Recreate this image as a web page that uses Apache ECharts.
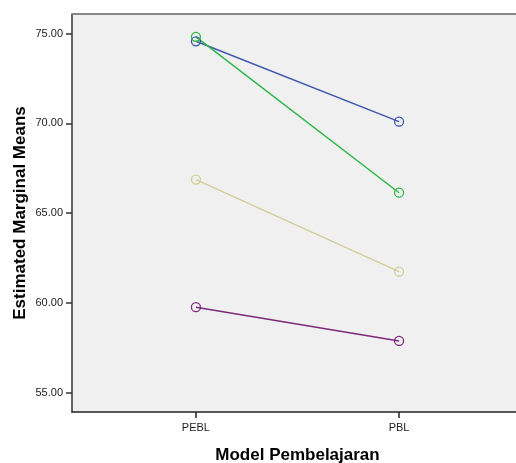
<!DOCTYPE html>
<html>
<head>
<meta charset="utf-8">
<script src="https://cdn.jsdelivr.net/npm/echarts@6/dist/echarts.min.js"></script>
<style>
    html, body { margin: 0; padding: 0; background: #fff; }
    #myChart { width: 516px; height: 463px; }
</style>
</head>
<body>
<div id="myChart"></div>
<script>
    // kategori sumbu x
    var categories = ['PEBL', 'PBL'];
    // nilai rata-rata tiap garis (PEBL, PBL)
    var blueValues = [74.58, 70.10];
    var greenValues = [74.83, 66.14];
    var beigeValues = [66.87, 61.74];
    var purpleValues = [59.76, 57.88];
    var yTicks = [55, 60, 65, 70, 75];

    function toPoints(vals) {
        var pts = [];
        for (var i = 0; i < vals.length; i++) {
            pts.push([i, vals[i]]);
        }
        return pts;
    }

    function makeSeries(name, vals, color) {
        return {
            name: name,
            type: 'line',
            data: toPoints(vals),
            symbol: 'circle',
            symbolSize: 9,
            lineStyle: { color: color, width: 1.5 },
            itemStyle: { color: 'rgba(0,0,0,0)', borderColor: color, borderWidth: 1.3 },
            emphasis: { disabled: true }
        };
    }

    var myChart = echarts.init(document.getElementById('myChart'));
    var option = {
        animation: false,
        grid: {
            left: 72,
            right: -7,
            top: 14,
            bottom: 51,
            containLabel: false,
            outerBoundsMode: 'none',
            show: true,
            backgroundColor: '#f0f0f0',
            borderWidth: 0
        },
        xAxis: {
            type: 'value',
            min: -0.61,
            max: 1.61,
            name: 'Model Pembelajaran',
            nameLocation: 'middle',
            nameGap: 35,
            nameTextStyle: { fontFamily: 'Liberation Sans', fontSize: 17, fontWeight: 'bold', color: '#000' },
            splitLine: { show: false },
            axisLine: { show: true, onZero: false, lineStyle: { color: '#222', width: 1.5 } },
            axisTick: { show: true, length: 6, customValues: [0, 1], lineStyle: { color: '#222', width: 1.5 } },
            axisLabel: {
                customValues: [0, 1],
                formatter: function (v) { return categories[Math.round(v)]; },
                fontFamily: 'Liberation Sans',
                fontSize: 11,
                color: '#222',
                margin: 10
            }
        },
        yAxis: {
            type: 'value',
            min: 53.92,
            max: 76.1,
            name: 'Estimated Marginal Means',
            nameLocation: 'middle',
            nameGap: 43,
            nameMoveOverlap: false,
            nameTextStyle: { fontFamily: 'Liberation Sans', fontSize: 17, fontWeight: 'bold', color: '#000' },
            splitLine: { show: false },
            axisLine: { show: true, onZero: false, lineStyle: { color: '#333', width: 1.5 } },
            axisTick: { show: true, length: 6, customValues: yTicks, lineStyle: { color: '#333', width: 1.5 } },
            axisLabel: {
                customValues: yTicks,
                formatter: function (v) { return v.toFixed(2); },
                fontFamily: 'Liberation Sans',
                fontSize: 11,
                color: '#222',
                margin: 9
            }
        },
        series: [
            makeSeries('Garis 1', blueValues, '#3e58ac'),
            makeSeries('Garis 2', greenValues, '#2eb848'),
            makeSeries('Garis 3', beigeValues, '#d3ce97'),
            makeSeries('Garis 4', purpleValues, '#7c287d'),
            {
                // garis batas atas area plot
                type: 'line',
                data: [],
                markLine: {
                    silent: true,
                    symbol: 'none',
                    label: { show: false },
                    lineStyle: { color: '#888', width: 2, type: 'solid' },
                    data: [{ yAxis: 76.1 }]
                }
            }
        ]
    };
    myChart.setOption(option);
</script>
</body>
</html>
